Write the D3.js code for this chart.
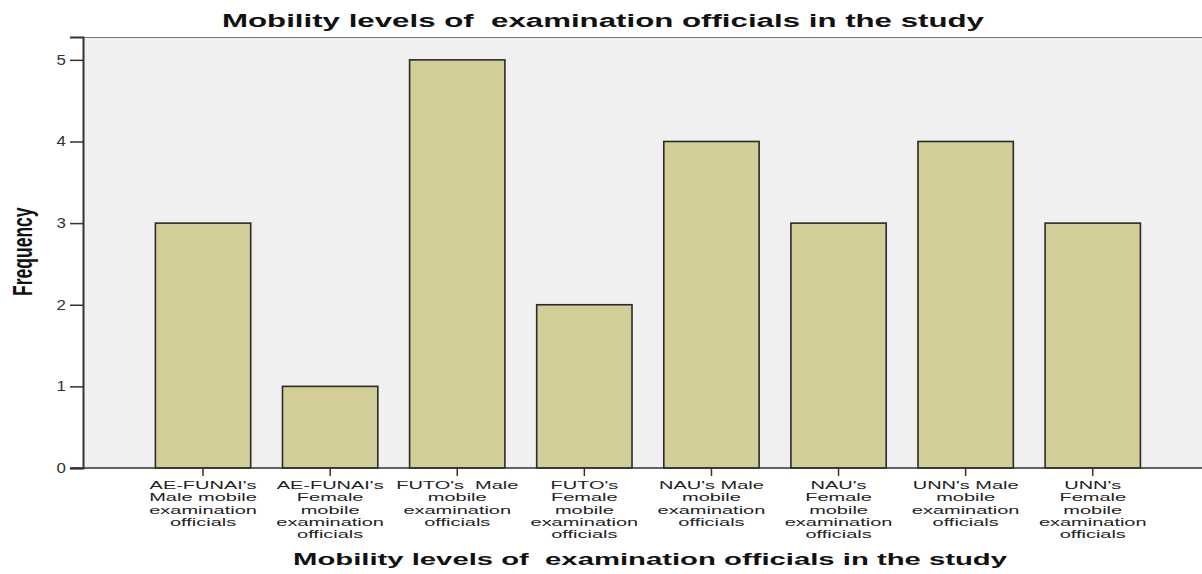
<!DOCTYPE html>
<html lang="en">
<head>
<meta charset="UTF-8">
<title>Mobility levels of examination officials in the study</title>
<style>
  body { margin: 0; padding: 0; background: #fff; overflow: hidden; }
  svg { display: block; font-family: "Liberation Sans", Arial, sans-serif; }
  text { white-space: pre; }
</style>
</head>
<body>
<div id="chart"></div>
<script src="https://d3js.org/d3.v7.min.js"></script>
<script>
// data
const categories = [
  "AE-FUNAI's Male mobile examination officials",
  "AE-FUNAI's Female mobile examination officials",
  "FUTO's  Male mobile examination officials",
  "FUTO's Female mobile examination officials",
  "NAU's Male mobile examination officials",
  "NAU's Female mobile examination officials",
  "UNN's Male mobile examination officials",
  "UNN's Female mobile examination officials"
];
const frequencies = [3, 1, 5, 2, 4, 3, 4, 3];
const tickLabels = [
  ["AE-FUNAI's", "Male mobile", "examination", "officials"],
  ["AE-FUNAI's", "Female", "mobile", "examination", "officials"],
  ["FUTO's  Male", "mobile", "examination", "officials"],
  ["FUTO's", "Female", "mobile", "examination", "officials"],
  ["NAU's Male", "mobile", "examination", "officials"],
  ["NAU's", "Female", "mobile", "examination", "officials"],
  ["UNN's Male", "mobile", "examination", "officials"],
  ["UNN's", "Female", "mobile", "examination", "officials"]
];
const yTicks = [0, 1, 2, 3, 4, 5];
const chartTitle = "Mobility levels of  examination officials in the study";
const xTitle = "Mobility levels of  examination officials in the study";
const yTitle = "Frequency";

const width = 1202, height = 574;
const plot = { left: 83, top: 37, right: 1202, bottom: 468 };

const svg = d3.select("#chart").append("svg")
  .attr("width", width)
  .attr("height", height);

const x = d3.scaleBand()
  .domain(categories)
  .range([139.5, 1156.3])
  .paddingInner(0.25)
  .paddingOuter(0.125);

const y = d3.scaleLinear()
  .domain([0, 5.28])
  .range([plot.bottom, plot.top]);

// plot background
svg.append("rect")
  .attr("x", plot.left)
  .attr("y", plot.top)
  .attr("width", plot.right - plot.left)
  .attr("height", plot.bottom - plot.top)
  .attr("fill", "#f0f0f0");

svg.append("line")
  .attr("x1", plot.left).attr("x2", plot.right)
  .attr("y1", plot.top + 0.5).attr("y2", plot.top + 0.5)
  .attr("stroke", "#777").attr("stroke-width", 1.2);

// bars
svg.append("g")
  .selectAll("rect")
  .data(frequencies)
  .join("rect")
  .attr("x", (d, i) => x(categories[i]))
  .attr("y", d => y(d))
  .attr("width", x.bandwidth())
  .attr("height", d => y(0) - y(d))
  .attr("fill", "#d3ce97")
  .attr("stroke", "#2a2a2a")
  .attr("stroke-width", 1.6);

// y axis
const yAxis = svg.append("g")
  .attr("transform", `translate(${plot.left},0)`)
  .call(d3.axisLeft(y).tickValues(yTicks).tickSize(13).tickPadding(4).tickFormat(d3.format("d")));
yAxis.select(".domain").attr("stroke", "#333").attr("stroke-width", 2);
yAxis.selectAll(".tick line").attr("stroke", "#333").attr("stroke-width", 1.5);
yAxis.selectAll(".tick text")
  .attr("font-size", 12.5)
  .attr("fill", "#333")
  .attr("font-family", "'Liberation Sans', Arial, sans-serif")
  .each(function () {
    const t = d3.select(this);
    const xPos = +t.attr("x");
    t.attr("x", null)
      .attr("transform", `translate(${xPos},0) scale(1.35,1.1)`);
  });

// x axis
const xAxis = svg.append("g")
  .attr("transform", `translate(0,${plot.bottom})`)
  .call(d3.axisBottom(x).tickSize(8).tickFormat(""));
xAxis.select(".domain").remove();
xAxis.selectAll(".tick line").attr("stroke", "#333").attr("stroke-width", 1.5);

svg.append("line")
  .attr("x1", plot.left - 13).attr("x2", plot.right)
  .attr("y1", plot.bottom).attr("y2", plot.bottom)
  .attr("stroke", "#333").attr("stroke-width", 1.6);

// category labels, several lines each
const lineGap = 12.3;
const labels = svg.append("g")
  .selectAll("g")
  .data(tickLabels)
  .join("g")
  .attr("transform", (d, i) => `translate(${x(categories[i]) + x.bandwidth() / 2},489)`);
labels.selectAll("text")
  .data(d => d)
  .join("text")
  .attr("text-anchor", "middle")
  .attr("font-size", 10.8)
  .attr("fill", "#222")
  .attr("transform", (d, j) => `translate(0,${j * lineGap}) scale(1.85,1)`)
  .text(d => d);

// titles
svg.append("text")
  .attr("x", 603 - 381)
  .attr("y", 27)
  .attr("font-size", 18)
  .attr("font-weight", "bold")
  .attr("fill", "#111")
  .attr("textLength", 762)
  .attr("lengthAdjust", "spacingAndGlyphs")
  .text(chartTitle);

svg.append("text")
  .attr("x", 293)
  .attr("y", 565)
  .attr("font-size", 16.5)
  .attr("font-weight", "bold")
  .attr("fill", "#111")
  .attr("textLength", 714)
  .attr("lengthAdjust", "spacingAndGlyphs")
  .text(xTitle);

svg.append("text")
  .attr("transform", `translate(32,${y(2.65)}) rotate(-90) scale(1,1.55)`)
  .attr("text-anchor", "middle")
  .attr("font-size", 17.5)
  .attr("font-weight", "bold")
  .attr("fill", "#111")
  .text(yTitle);
</script>
</body>
</html>
